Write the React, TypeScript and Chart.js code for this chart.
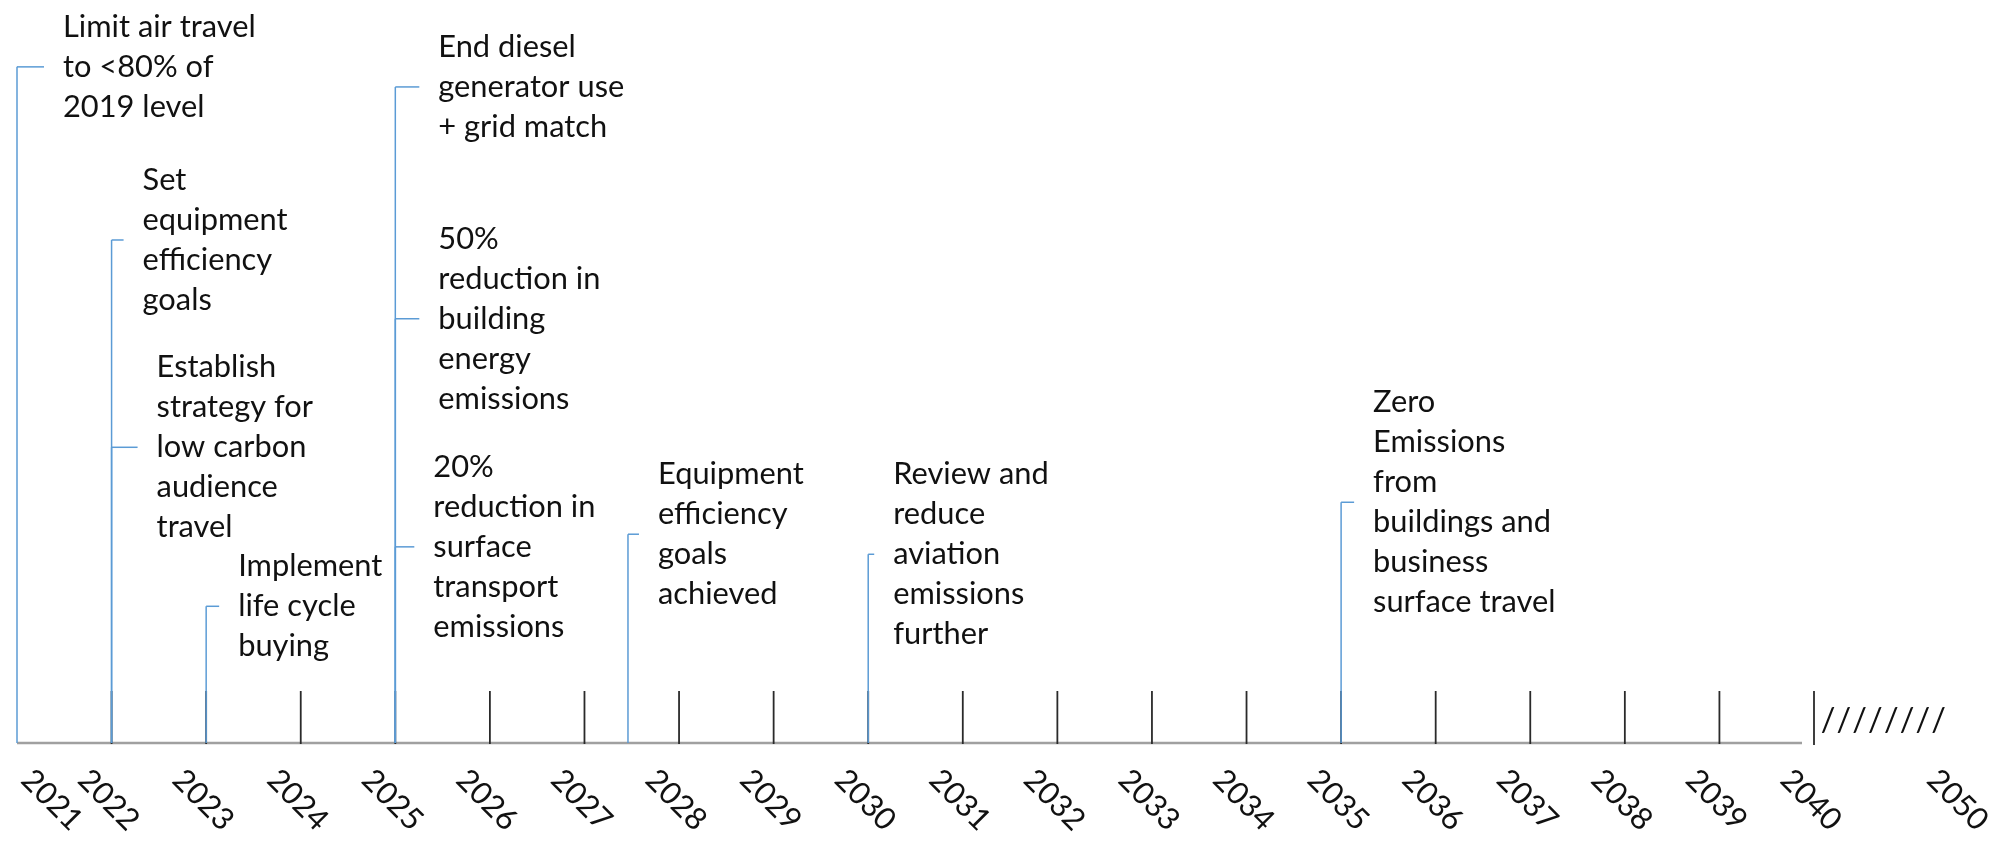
import React, { useEffect, useRef } from "react";
import { Chart, registerables } from "chart.js";

Chart.register(...registerables);

// ---------------- data ----------------
const milestoneLabels: string[][] = [
  ["Limit air travel", "to <80% of", "2019 level"],
  ["Set", "equipment", "efficiency", "goals"],
  ["Establish", "strategy for", "low carbon", "audience", "travel"],
  ["Implement", "life cycle", "buying"],
  ["End diesel", "generator use", "+ grid match"],
  ["50%", "reduction in", "building", "energy", "emissions"],
  ["20%", "reduction in", "surface", "transport", "emissions"],
  ["Equipment", "efficiency", "goals", "achieved"],
  ["Review and", "reduce", "aviation", "emissions", "further"],
  ["Zero", "Emissions", "from", "buildings and", "business", "surface travel"],
];
const milestoneYears = [2021, 2022, 2022, 2023, 2025, 2025, 2025, 2027.46, 2030, 2035];
const milestoneHeights = [91.0, 67.7, 39.8, 18.4, 88.3, 57.1, 26.4, 28.1, 25.4, 32.4];

const tickYears = [
  2022, 2023, 2024, 2025, 2026, 2027, 2028, 2029, 2030, 2031,
  2032, 2033, 2034, 2035, 2036, 2037, 2038, 2039, 2040,
];
const axisLabelValues = [
  2021, 2022, 2023, 2024, 2025, 2026, 2027, 2028, 2029, 2030, 2031,
  2032, 2033, 2034, 2035, 2036, 2037, 2038, 2039, 2040, 2041.55,
];
const axisLabelTexts = [
  "2021", "2022", "2023", "2024", "2025", "2026", "2027", "2028", "2029", "2030", "2031",
  "2032", "2033", "2034", "2035", "2036", "2037", "2038", "2039", "2040", "2050",
];
const axisStart = 2021;
const axisBreak = 2040;
const breakMarks = "////////";

// ---------------- styles / layout ----------------
const BLUE = "#5B9BD5";
const AXIS_GRAY = "#a0a0a0";
const TICK_COLOR = "#2a2a2a";
const FONT_FAMILY = "Lato, 'Open Sans', sans-serif";
const LINE_H = 40;
const TICK_LEN = 52;
const STUB_SHORTEN = 19;
// horizontal distance from leader line to the text, per milestone (px)
const labelGap = [46, 31, 45, 32, 43, 43, 38, 30, 25, 32];

let fontPx = 30;
function calibrate(ctx: CanvasRenderingContext2D) {
  ctx.save();
  ctx.font = `100px ${FONT_FAMILY}`;
  const w = ctx.measureText("generator use").width;
  ctx.restore();
  if (w > 0) fontPx = (100 * 186) / w;
}

const decor = {
  id: "timelineDecor",
  beforeDatasetsDraw(chart: any) {
    const { ctx, scales } = chart;
    const x = scales.x;
    const y = scales.y;
    const base = y.getPixelForValue(0);
    ctx.save();
    // baseline
    ctx.strokeStyle = AXIS_GRAY;
    ctx.lineWidth = 2.5;
    ctx.beginPath();
    ctx.moveTo(x.getPixelForValue(axisStart), base);
    ctx.lineTo(x.getPixelForValue(axisBreak) - 12, base);
    ctx.stroke();
    // tick marks
    ctx.strokeStyle = TICK_COLOR;
    ctx.lineWidth = 1.8;
    tickYears.forEach((yr) => {
      const px = x.getPixelForValue(yr);
      ctx.beginPath();
      ctx.moveTo(px, base + (yr === axisBreak ? 2 : 1));
      ctx.lineTo(px, base - TICK_LEN);
      ctx.stroke();
    });
    ctx.restore();
  },
  afterDatasetsDraw(chart: any) {
    const { ctx, scales, chartArea } = chart;
    const x = scales.x;
    const y = scales.y;
    const base = y.getPixelForValue(0);
    calibrate(ctx);
    ctx.save();
    ctx.font = `${fontPx}px ${FONT_FAMILY}`;
    ctx.fillStyle = "#111";
    ctx.textBaseline = "middle";
    ctx.textAlign = "left";
    chart.data.datasets.forEach((_ds: any, i: number) => {
      const meta = chart.getDatasetMeta(i);
      const pt = meta.data[1];
      const px = pt.x;
      const py = pt.y;
      const gap = labelGap[i];
      ctx.strokeStyle = BLUE;
      ctx.lineWidth = 1.5;
      ctx.beginPath();
      ctx.moveTo(px, py);
      ctx.lineTo(px + gap - STUB_SHORTEN, py);
      ctx.stroke();
      const lines = milestoneLabels[i];
      lines.forEach((t, j) => {
        ctx.fillText(t, px + gap, py + (j - (lines.length - 1) / 2) * LINE_H);
      });
    });

    // rotated axis labels
    ctx.textAlign = "center";
    axisLabelValues.forEach((v, k) => {
      const label = axisLabelTexts[k];
      const w = ctx.measureText(label).width;
      const half = (w + fontPx * 0.7) / (2 * Math.SQRT2);
      let cx = x.getPixelForValue(v) - 3;
      cx = Math.max(cx, chartArea.left + half + 2);
      ctx.save();
      ctx.translate(cx, base + 57);
      ctx.rotate(Math.PI / 4);
      ctx.fillText(label, 0, 0);
      ctx.restore();
    });

    // axis break marks
    const bx = x.getPixelForValue(axisBreak);
    ctx.font = `${fontPx * 1.05}px ${FONT_FAMILY}`;
    ctx.textAlign = "center";
    const marks = breakMarks.split("");
    marks.forEach((m, k) => {
      ctx.fillText(m, bx + 14 + k * 15.8, base - 22);
    });
    ctx.restore();
  },
};

export default function App() {
  const ref = useRef<HTMLCanvasElement>(null);
  useEffect(() => {
    const canvas = ref.current;
    if (!canvas) return;
    const chart = new Chart(canvas, {
      type: "scatter",
      data: {
        datasets: milestoneYears.map((yr, i) => ({
          label: milestoneLabels[i].join(" "),
          data: [
            { x: yr, y: 0 },
            { x: yr, y: milestoneHeights[i] },
          ],
          showLine: true,
          borderColor: BLUE,
          backgroundColor: BLUE,
          borderWidth: 1.5,
          pointRadius: 0,
          pointHoverRadius: 0,
          clip: false as any,
        })),
      },
      options: {
        animation: false,
        responsive: false,
        maintainAspectRatio: false,
        events: [],
        layout: { padding: { left: 17, right: 183, top: 0, bottom: 101 } },
        scales: {
          x: { type: "linear", min: 2021, max: 2040, display: false },
          y: { type: "linear", min: 0, max: 100, display: false },
        },
        plugins: {
          legend: { display: false },
          tooltip: { enabled: false },
        },
      },
      plugins: [decor],
    });
    return () => chart.destroy();
  }, []);
  return (
    <div
      style={{
        position: "absolute",
        left: 0,
        top: 0,
        width: 1997,
        height: 844,
        background: "#ffffff",
      }}
    >
      <canvas ref={ref} width={1997} height={844} style={{ display: "block" }} />
    </div>
  );
}
